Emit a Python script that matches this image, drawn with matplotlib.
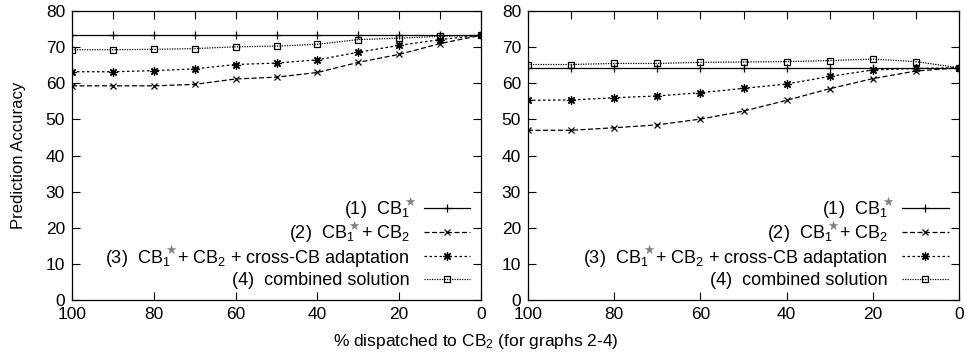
import matplotlib
matplotlib.use("Agg")
import matplotlib.pyplot as plt
from matplotlib.ticker import MultipleLocator

plt.rcParams['font.family'] = ['Liberation Sans', 'DejaVu Sans']
plt.rcParams['mathtext.fontset'] = 'custom'
plt.rcParams['mathtext.rm'] = 'Liberation Sans'
plt.rcParams['mathtext.it'] = 'Liberation Sans'

pct = [100, 90, 80, 70, 60, 50, 40, 30, 20, 10, 0]

# left graph
left_cb1 = [73.3] * 11
left_cb1_cb2 = [59.3, 59.3, 59.3, 59.7, 61.2, 61.7, 63.0, 65.8, 68.0, 71.0, 73.3]
left_cross = [63.2, 63.2, 63.5, 64.0, 65.2, 65.6, 66.5, 68.6, 70.5, 72.1, 73.3]
left_comb = [69.3, 69.3, 69.4, 69.6, 70.1, 70.3, 70.8, 72.1, 72.5, 73.0, 73.3]

# right graph
right_cb1 = [64.3] * 11
right_cb1_cb2 = [47.0, 47.0, 47.7, 48.5, 50.1, 52.3, 55.3, 58.5, 61.3, 63.4, 64.3]
right_cross = [55.3, 55.4, 56.0, 56.5, 57.4, 58.6, 59.8, 61.9, 63.7, 64.1, 64.3]
right_comb = [65.2, 65.2, 65.5, 65.5, 65.8, 65.9, 66.0, 66.3, 66.7, 66.0, 64.3]

# labels without the star; the grey star is put over the subscript afterwards
labels = [
    '(1)  CB$_1$',
    r'(2)  CB$_1\,$ + CB$_2$',
    r'(3)  CB$_1\,$ + CB$_2$ + cross-CB adaptation',
    '(4)  combined solution',
]
star_prefix = ['(1)  CB$_1$', '(2)  CB$_1$', '(3)  CB$_1$', None]

LEG_FS = 13

fig = plt.figure(figsize=(9.66, 3.62), dpi=100)


def panel(ax, series):
    styles = [
        dict(ls='-', marker='+', ms=6),
        dict(ls=(0, (4, 2)), marker='x', ms=5),
        dict(ls=(0, (2, 2)), marker=(8, 2, 0), ms=6),
        dict(ls=(0, (1, 1)), marker='s', ms=5, mfc='none'),
    ]
    for s, st, lab in zip(series, styles, labels):
        ax.plot(pct, s, color='black', lw=0.9, mew=0.9, label=lab, **st)
    ax.set_xlim(100, 0)
    ax.set_ylim(0, 80)
    ax.xaxis.set_major_locator(MultipleLocator(20))
    ax.xaxis.set_minor_locator(MultipleLocator(10))
    ax.yaxis.set_major_locator(MultipleLocator(10))
    ax.tick_params(which='major', direction='in', length=6, width=0.8,
                   top=True, right=True, labelsize=12.5, pad=5)
    ax.tick_params(which='minor', axis='x', direction='in', length=6,
                   width=0.8, bottom=False, top=True)
    ax.tick_params(axis='y', which='minor', left=False, right=False)
    for sp in ax.spines.values():
        sp.set_linewidth(0.9)
    leg = ax.legend(loc='lower right', frameon=False, markerfirst=False,
                    fontsize=LEG_FS, handlelength=2.6, labelspacing=0.18,
                    handletextpad=0.75, borderaxespad=0.3,
                    bbox_to_anchor=(1.005, -0.005))
    return leg


ax1 = fig.add_axes([0.0745, 0.171, 0.4235, 0.7985])
ax2 = fig.add_axes([0.5466, 0.171, 0.4462, 0.7985])
leg1 = panel(ax1, [left_cb1, left_cb1_cb2, left_cross, left_comb])
leg2 = panel(ax2, [right_cb1, right_cb1_cb2, right_cross, right_comb])

ax1.set_ylabel('Prediction Accuracy', fontsize=12, labelpad=14)
fig.text(0.493, 0.058, '% dispatched to CB$_2$ (for graphs 2-4)',
         ha='center', va='center', fontsize=12.5)

# grey stars above the subscript "1"
fig.canvas.draw()
r = fig.canvas.get_renderer()
W, H = fig.bbox.width, fig.bbox.height
for leg in (leg1, leg2):
    for t, pre in zip(leg.get_texts(), star_prefix):
        if pre is None:
            continue
        bb = t.get_window_extent(r)
        tmp = fig.text(0, 0, pre, fontsize=LEG_FS)
        w = tmp.get_window_extent(r).width
        tmp.remove()
        x = bb.x0 + w
        y = bb.y1 - 3
        fig.text(x / W, y / H, '\u2605', fontsize=9, color='0.5',
                 family='DejaVu Sans', ha='center', va='center')

fig.savefig('out.png', dpi=100)
